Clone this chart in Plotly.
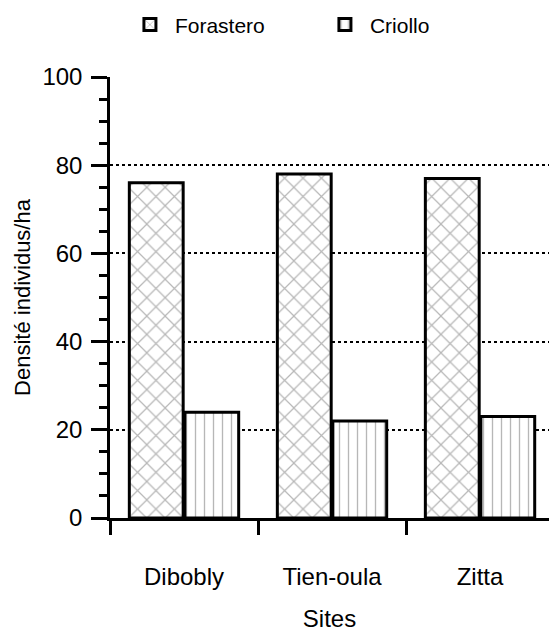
import plotly.graph_objects as go

sites = ["Dibobly", "Tien-oula", "Zitta"]
forastero = [76, 78, 77]
criollo = [24, 22, 23]
y_ticks = [0, 20, 40, 60, 80, 100]

font_family = "Liberation Sans, Arial, sans-serif"

fig = go.Figure()
fig.add_trace(go.Bar(
    name="Forastero", x=sites, y=forastero,
    marker=dict(color="white", line=dict(color="black", width=3),
                pattern=dict(shape="x", fgcolor="#707070", bgcolor="white", size=13, solidity=0.18)),
))
fig.add_trace(go.Bar(
    name="Criollo", x=sites, y=criollo,
    marker=dict(color="white", line=dict(color="black", width=3),
                pattern=dict(shape="|", fgcolor="#707070", bgcolor="white", size=9, solidity=0.15)),
))

fig.update_layout(
    width=549, height=632,
    margin=dict(l=110, r=0, t=77, b=114),
    paper_bgcolor="white", plot_bgcolor="white",
    barmode="group", bargap=0.25, bargroupgap=0.03,
    font=dict(family=font_family, color="black"),
    showlegend=True,
    legend=dict(orientation="h", x=0.034, xanchor="left", y=1.118, yanchor="middle",
                font=dict(size=21), itemwidth=40, entrywidth=140, entrywidthmode="pixels",
                bgcolor="rgba(0,0,0,0)"),
    xaxis=dict(
        type="category", range=[-0.5, 2.466], tickson="boundaries", automargin=False,
        showline=True, linecolor="black", linewidth=2.5,
        ticks="outside", ticklen=14, tickwidth=2.5, tickcolor="black",
        tickfont=dict(size=24), ticklabelstandoff=35, showgrid=False, zeroline=False,
        title=dict(text="Sites", font=dict(size=24), standoff=32),
    ),
    yaxis=dict(
        range=[0, 100], tickvals=y_ticks, automargin=False,
        showline=True, linecolor="black", linewidth=2.5,
        ticks="outside", ticklen=16, tickwidth=2.5, tickcolor="black",
        tickfont=dict(size=24), ticklabelstandoff=4,
        minor=dict(dtick=5, ticks="outside", ticklen=8, tickwidth=2.5, tickcolor="black", showgrid=False),
        showgrid=True, gridcolor="black", griddash="dot", gridwidth=1.5,
        zeroline=False,
        title=dict(text="Densité individus/ha", font=dict(size=22), standoff=6),
    ),
)

fig.write_html("out.html", config={"displayModeBar": False},
               post_script="document.body.style.margin='0';")
